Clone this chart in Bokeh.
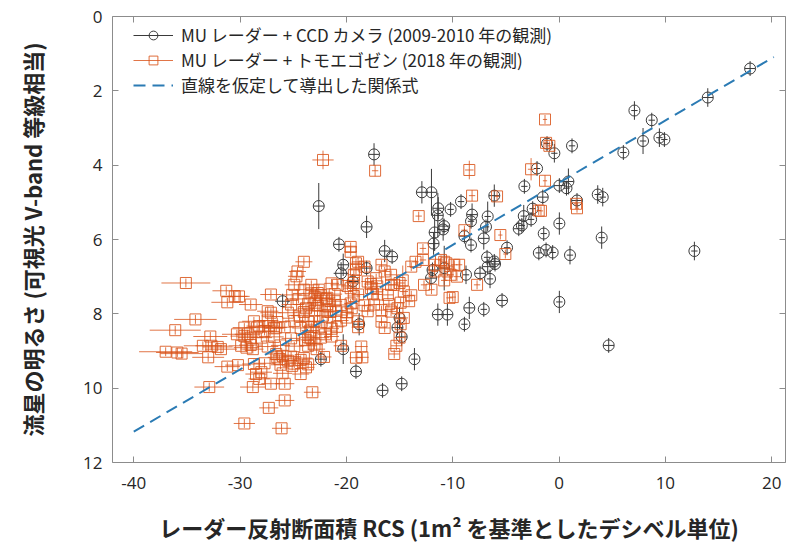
import numpy as np
from bokeh.plotting import figure
from bokeh.models import Range1d, LinearAxis, Legend, LegendItem, FixedTicker
from bokeh.embed import file_html
from bokeh.resources import INLINE

# ---------------- data ----------------
# MU radar + CCD camera (2009-2010)
ccd_x = [17.97, 13.99, 7.09, 8.72, 7.90, 9.44, 9.91, 6.05, 1.22, -0.44,
         -1.13, 0.88, 0.70, 0.03, 3.64, 4.11, 1.69, -1.53, 0.03, -1.44,
         4.01, 12.73, -1.22, -0.60, 1.03, 0.03, 4.67, -2.07, -3.26, -2.48,
         -3.32, -2.63, -3.79, -3.50, -1.90, -6.09, -6.71, -6.87, -8.18, -8.28,
         -9.22, -10.20, -11.36, -11.40, -10.80, -10.90, -12.90, -12.00, -11.70, -11.80,
         -8.90, -8.28, -7.08, -4.89, -6.77, -6.09, -12.04, -11.90, -10.80, -8.75,
         -7.43, -6.71, -6.02, -6.49, -5.36, -11.40, -10.50, -8.44, -7.08, -8.90,
         -15.00, -15.20, -14.80, -13.60, -14.80, -26.00, -18.80, -20.30, -22.40, -19.10,
         -16.60, -17.40, -22.60, -18.10, -20.70, -16.40, -15.70, -20.30, -20.50, -18.10,
         -19.40]
ccd_y = [1.40, 2.18, 2.53, 2.79, 3.35, 3.26, 3.31, 3.66, 3.48, 3.68,
         3.42, 4.44, 4.62, 4.55, 4.79, 4.86, 4.95, 4.86, 5.57, 5.84,
         5.95, 6.31, 6.28, 6.35, 6.42, 7.68, 8.85, 4.09, 4.57, 5.17,
         5.37, 5.46, 5.71, 5.62, 6.36, 4.82, 5.38, 5.66, 5.33, 5.51,
         4.98, 5.19, 5.16, 5.35, 5.64, 5.73, 4.73, 4.73, 5.81, 6.11,
         5.91, 6.15, 5.97, 6.22, 6.48, 6.59, 7.04, 6.82, 6.77, 6.95,
         6.91, 6.73, 6.66, 7.06, 7.64, 8.02, 8.02, 7.84, 7.88, 8.28,
         8.11, 8.37, 8.62, 9.22, 9.88, 7.66, 8.28, 8.95, 9.22, 9.55,
         10.06, 3.71, 5.10, 5.66, 6.13, 6.31, 6.46, 6.68, 6.91, 6.77,
         7.13]
ccd_xerr = [0.5, 0.5, 0.3, 0.3, 0.3, 0.3, 0.3, 0.3, 0.3, 0.3,
            0.3, 0.5, 0.3, 0.5, 0.3, 0.3, 0.5, 0.5, 0.3, 0.3,
            0.3, 0.3, 0.3, 0.3, 0.3, 0.3, 0.5, 0.3, 0.3, 0.3,
            0.3, 0.3, 0.5, 0.3, 0.3, 0.5, 0.3, 0.3, 0.5, 0.3,
            0.3, 0.3, 0.5, 0.5, 0.5, 0.5, 0.5, 0.5, 0.5, 0.5,
            0.5, 0.3, 0.5, 0.3, 0.3, 0.5, 0.5, 0.5, 0.5, 0.3,
            0.5, 0.5, 0.5, 0.3, 0.5, 0.5, 0.5, 0.5, 0.3, 0.3,
            0.5, 0.5, 0.5, 0.3, 0.5, 0.7, 0.5, 0.5, 0.5, 0.5,
            0.5, 0.5, 0.5, 0.5, 0.5, 0.5, 0.5, 0.5, 0.7, 0.5,
            0.5]
ccd_yerr = [0.20, 0.25, 0.25, 0.20, 0.35, 0.25, 0.20, 0.20, 0.20, 0.25,
            0.20, 0.35, 0.20, 0.20, 0.25, 0.25, 0.20, 0.20, 0.30, 0.20,
            0.30, 0.25, 0.20, 0.20, 0.25, 0.30, 0.20, 0.20, 0.20, 0.20,
            0.30, 0.20, 0.20, 0.20, 0.20, 0.30, 0.40, 0.20, 0.30, 0.20,
            0.20, 0.20, 0.30, 0.60, 0.20, 0.30, 0.30, 0.63, 0.50, 0.30,
            0.20, 0.20, 0.30, 0.20, 0.20, 0.20, 0.20, 0.20, 0.60, 0.25,
            0.20, 0.20, 0.20, 0.25, 0.20, 0.30, 0.30, 0.30, 0.20, 0.20,
            0.30, 0.20, 0.25, 0.30, 0.20, 0.20, 0.30, 0.40, 0.20, 0.20,
            0.20, 0.30, 0.62, 0.30, 0.20, 0.30, 0.20, 0.30, 0.30, 0.20,
            0.20]

# MU radar + Tomo-e Gozen (2018)
tomo_x = [
    -35.1, -31.3, -30.5, -30.1, -31.2, -34.2, -36.1, -32.8, -33.5, -32.7,
    -32.1, -37.0, -35.9, -35.5, -33.0, -31.8, -31.2, -30.2, -30.3, -29.6,
    -29.0, -29.4, -28.8, -32.9, -28.8, -29.6, -28.5, -28.2, -27.3, -25.8,
    -26.1, -23.2, -27.1, -25.8, -28.0, -28.2, -26.0, -24.3, -23.8, -25.1,
    -26.3, -25.5, -24.3, -26.6, -26.0, -27.3, -26.6, -27.7, -27.1, -25.5,
    -25.2, -25.1, -24.0, -23.3, -24.0, -24.6, -24.7, -22.2, -17.3,
    -24.9, -21.4, -19.9, -17.7,
    -27.1, -23.3, -22.4, -21.1, -19.3, -17.5, -16.1,
    -29.0, -23.6, -22.7, -21.8, -20.5, -19.6, -18.3, -17.4, -16.0,
    -27.4, -24.0, -23.0, -21.8, -21.0, -19.9, -18.0, -16.7, -15.8,
    -28.7, -27.4, -26.5, -24.9, -23.6, -23.0, -21.8, -20.5, -18.9, -16.7,
    -29.6, -26.8, -25.8, -24.3, -23.3, -22.6, -21.4, -18.9, -16.4,
    -28.0, -26.8, -25.2, -23.6, -23.3, -22.4, -21.4,
    -29.9, -29.0, -27.4, -26.2, -24.9, -23.6, -23.0, -20.5, -18.6,
    -26.5, -25.2, -24.0, -22.1, -19.1, -18.5,
    -28.7, -27.7, -26.2, -24.9, -23.6,
    -23.8, -22.9, -22.2, -23.4, -22.0, -24.4, -22.6, -21.5, -23.9, -22.8,
    -21.9, -20.9, -20.0, -19.5, -24.5, -23.0,
    -19.6, -19.6, -19.1, -19.1, -16.7, -16.4, -20.8, -19.3, -18.0, -17.2,
    -17.1, -15.8, -18.9, -18.3, -19.3, -15.8, -15.5,
    -14.6, -15.0, -14.1, -13.9, -12.7, -12.0, -11.7, -10.2, -9.4, -14.6,
    -14.9, -15.0, -15.3, -15.5, -10.3, -12.8, -13.2, -11.7, -10.8, -10.5,
    -10.0, -7.71, -12.8, -13.5, -11.1, -10.6, -9.85, -10.8, -9.6, -14.7,
    -22.7, -21.8, -21.1, -19.6, -18.9, -17.7, -17.1, -28.4, -29.3, -15.2,
    -14.9, -13.9,
    -8.44, -2.63, -1.32, -8.18, -5.83, -1.91, -8.9, -5.52, -5.05, -1.32,
    -1.22, -0.91, -1.7, 1.6, 1.69]
tomo_y = [
    7.17, 7.38, 7.53, 7.53, 7.69, 8.15, 8.44, 8.61, 8.86, 8.86,
    8.89, 9.02, 9.04, 9.07, 9.17, 8.95, 9.42, 9.38, 8.55, 8.60,
    8.64, 8.91, 8.95, 9.97, 9.97, 10.95, 9.62, 8.33, 10.53, 10.33,
    11.08, 10.11, 9.88, 9.88, 9.57, 9.75, 9.60, 9.62, 9.44, 9.40,
    9.22, 9.26, 9.24, 9.08, 9.13, 8.33, 8.37, 8.46, 7.97, 7.97,
    7.75, 7.49, 7.35, 7.22, 6.60, 6.86, 6.99, 3.86, 4.15,
    7.22, 7.18, 7.25, 7.20,
    7.48, 7.45, 7.50, 7.47, 7.52, 7.46, 7.49,
    7.75, 7.73, 7.78, 7.74, 7.76, 7.72, 7.77, 7.75, 7.74,
    7.93, 7.95, 7.91, 7.94, 7.92, 7.96, 7.93, 7.90, 7.94,
    8.20, 8.18, 8.22, 8.19, 8.21, 8.20, 8.23, 8.18, 8.20, 8.21,
    8.37, 8.39, 8.36, 8.38, 8.35, 8.37, 8.40, 8.36, 8.38,
    8.64, 8.62, 8.66, 8.63, 8.65, 8.64, 8.61,
    8.86, 8.84, 8.88, 8.85, 8.87, 8.86, 8.83, 8.86, 8.88,
    9.17, 9.15, 9.19, 9.16, 9.18, 9.17,
    9.35, 9.33, 9.37, 9.34, 9.36,
    7.85, 7.70, 8.05, 8.45, 8.55, 8.05, 7.35, 7.95, 8.70, 8.95,
    7.60, 8.35, 8.10, 7.85, 7.60, 7.55,
    6.20, 6.33, 6.64, 6.82, 6.68, 6.86, 7.22, 7.17, 7.13, 7.04,
    7.26, 7.22, 6.60, 6.73, 6.95, 6.95, 7.22,
    7.40, 7.17, 7.66, 6.73, 7.22, 7.35, 6.86, 6.95, 6.68, 8.11,
    8.28, 8.64, 8.86, 9.08, 7.57, 6.24, 5.37, 6.68, 6.60, 6.86,
    7.55, 7.22, 6.55, 6.60, 6.55, 6.64, 6.68, 7.10, 7.00, 7.10,
    7.44, 7.57, 7.66, 7.31, 7.48, 7.31, 7.48, 8.37, 8.55, 7.85,
    7.70, 7.50,
    4.13, 4.11, 4.42, 4.82, 4.84, 5.22, 5.75, 5.88, 6.39, 2.77,
    3.40, 3.48, 5.23, 5.04, 5.16]
tomo_xerr = [
    2.3, 1.3, 1.2, 1.0, 1.5, 2.0, 2.4, 1.6, 1.8, 1.5,
    1.4, 2.5, 2.0, 2.0, 1.5, 1.5, 1.2, 1.2, 1.4, 1.3,
    1.2, 1.2, 1.0, 1.4, 1.2, 1.0, 1.0, 1.2, 0.9, 0.9,
    0.9, 0.8, 0.9, 0.9, 1.0, 1.0, 0.9, 0.8, 0.8, 0.8,
    0.9, 0.8, 0.8, 0.9, 0.9, 1.0, 1.0, 1.0, 1.0, 0.9,
    0.9, 0.9, 0.8, 0.8, 0.8, 0.8, 0.8, 1.0, 0.3,
    0.9, 0.7, 0.6, 0.6,
    1.0, 0.8, 0.8, 0.7, 0.6, 0.6, 0.5,
    1.1, 0.8, 0.8, 0.7, 0.7, 0.6, 0.6, 0.6, 0.5,
    1.0, 0.8, 0.8, 0.7, 0.7, 0.6, 0.6, 0.5, 0.5,
    1.1, 1.0, 0.9, 0.9, 0.8, 0.8, 0.7, 0.7, 0.6, 0.5,
    1.1, 0.9, 0.9, 0.8, 0.8, 0.8, 0.7, 0.6, 0.5,
    1.0, 0.9, 0.9, 0.8, 0.8, 0.8, 0.7,
    1.2, 1.1, 1.0, 0.9, 0.9, 0.8, 0.8, 0.7, 0.6,
    0.9, 0.9, 0.8, 0.7, 0.6, 0.6,
    1.1, 1.0, 0.9, 0.9, 0.8,
    0.8, 0.8, 0.7, 0.8, 0.7, 0.8, 0.8, 0.7, 0.8, 0.8,
    0.7, 0.7, 0.6, 0.6, 0.8, 0.8,
    0.6, 0.6, 0.6, 0.6, 0.5, 0.5, 0.7, 0.6, 0.6, 0.5,
    0.5, 0.5, 0.6, 0.6, 0.6, 0.5, 0.5,
    0.4, 0.5, 0.4, 0.4, 0.3, 0.3, 0.3, 0.3, 0.3, 0.4,
    0.4, 0.5, 0.5, 0.5, 0.3, 0.3, 0.3, 0.3, 0.3, 0.3,
    0.3, 0.3, 0.3, 0.3, 0.3, 0.3, 0.3, 0.3, 0.3, 0.4,
    0.8, 0.7, 0.7, 0.6, 0.6, 0.6, 0.5, 1.1, 1.2, 0.5,
    0.4, 0.4,
    0.4, 0.3, 0.2, 0.3, 0.2, 0.2, 0.3, 0.2, 0.2, 0.2,
    0.2, 0.2, 0.2, 0.2, 0.2]
tomo_yerr = [
    0.12, 0.12, 0.12, 0.12, 0.12, 0.12, 0.12, 0.12, 0.12, 0.12,
    0.12, 0.12, 0.12, 0.12, 0.12, 0.12, 0.12, 0.12, 0.12, 0.12,
    0.12, 0.12, 0.12, 0.12, 0.12, 0.12, 0.12, 0.12, 0.12, 0.12,
    0.12, 0.12, 0.12, 0.12, 0.12, 0.12, 0.12, 0.12, 0.12, 0.12,
    0.12, 0.12, 0.12, 0.12, 0.12, 0.12, 0.12, 0.12, 0.12, 0.12,
    0.12, 0.12, 0.12, 0.12, 0.12, 0.12, 0.12, 0.25, 0.15,
    0.12, 0.12, 0.12, 0.12,
    0.12, 0.12, 0.12, 0.12, 0.12, 0.12, 0.12,
    0.12, 0.12, 0.12, 0.12, 0.12, 0.12, 0.12, 0.12, 0.12,
    0.12, 0.12, 0.12, 0.12, 0.12, 0.12, 0.12, 0.12, 0.12,
    0.12, 0.12, 0.12, 0.12, 0.12, 0.12, 0.12, 0.12, 0.12, 0.12,
    0.12, 0.12, 0.12, 0.12, 0.12, 0.12, 0.12, 0.12, 0.12,
    0.12, 0.12, 0.12, 0.12, 0.12, 0.12, 0.12,
    0.12, 0.12, 0.12, 0.12, 0.12, 0.12, 0.12, 0.12, 0.12,
    0.12, 0.12, 0.12, 0.12, 0.12, 0.12,
    0.12, 0.12, 0.12, 0.12, 0.12,
    0.12, 0.12, 0.12, 0.12, 0.12, 0.12, 0.12, 0.12, 0.12, 0.12,
    0.12, 0.12, 0.12, 0.12, 0.12, 0.12,
    0.12, 0.12, 0.12, 0.12, 0.12, 0.12, 0.12, 0.12, 0.12, 0.12,
    0.12, 0.12, 0.12, 0.12, 0.12, 0.12, 0.12,
    0.12, 0.12, 0.12, 0.12, 0.12, 0.12, 0.12, 0.12, 0.12, 0.12,
    0.12, 0.12, 0.12, 0.12, 0.12, 0.12, 0.12, 0.12, 0.12, 0.12,
    0.12, 0.12, 0.12, 0.12, 0.12, 0.12, 0.12, 0.12, 0.12, 0.40,
    0.12, 0.12, 0.12, 0.12, 0.12, 0.12, 0.12, 0.12, 0.12, 0.12,
    0.12, 0.12,
    0.25, 0.30, 0.15, 0.15, 0.12, 0.12, 0.12, 0.12, 0.12, 0.12,
    0.12, 0.12, 0.12, 0.12, 0.12]

# fitted straight-line relation (end points)
fit_x = [-40.0, 20.2]
fit_y = [11.17, 1.09]

x_ticks = [-40, -30, -20, -10, 0, 10, 20]
y_ticks = [0, 2, 4, 6, 8, 10, 12]

legend_labels = ["MU レーダー + CCD カメラ (2009-2010 年の観測)",
                 "MU レーダー + トモエゴゼン (2018 年の観測)",
                 "直線を仮定して導出した関係式"]
x_label = "レーダー反射断面積 RCS (1m² を基準としたデシベル単位)"
y_label = "流星の明るさ (可視光 V-band 等級相当)"

assert len(ccd_x) == len(ccd_y) == len(ccd_xerr) == len(ccd_yerr)
assert len(tomo_x) == len(tomo_y) == len(tomo_xerr) == len(tomo_yerr)

# ---------------- styling ----------------
BLACK = "#3a3a3a"
ORANGE = "#D95319"
BLUE = "#2b7bb4"
AXIS = "#8c8c8c"
TXT = "#262626"
JP = "Noto Sans CJK JP"
NUM = "Open Sans"

p = figure(width=793, height=545,
           x_range=Range1d(-42, 21.3), y_range=Range1d(12, 0),
           output_backend="svg", toolbar_location=None,
           min_border_left=112, min_border_right=8,
           min_border_top=16, min_border_bottom=79)
p.background_fill_color = "white"
p.border_fill_color = "white"
p.outline_line_color = None
p.grid.visible = False

# top / right mirror axes (tick marks only, labels not painted)
p.add_layout(LinearAxis(), "above")
p.add_layout(LinearAxis(), "right")

for ax in p.xaxis:
    ax.ticker = FixedTicker(ticks=x_ticks)
    ax.major_label_overrides = {t: str(t) for t in x_ticks}
for ax in p.yaxis:
    ax.ticker = FixedTicker(ticks=y_ticks)
    ax.major_label_overrides = {t: str(t) for t in y_ticks}

for ax in list(p.xaxis) + list(p.yaxis):
    ax.axis_line_color = AXIS
    ax.major_tick_line_color = AXIS
    ax.major_tick_in = 6
    ax.major_tick_out = 0
    ax.minor_tick_line_color = None
    ax.major_label_text_color = TXT
    ax.major_label_text_font = NUM
    ax.major_label_text_font_size = "17px"

top_ax, right_ax = p.above[0], p.right[0]
for ax in (top_ax, right_ax):
    ax.major_label_text_color = None
    ax.major_label_text_font_size = "1px"
    ax.major_label_standoff = 0

bx = p.below[0]
bx.major_label_standoff = 14
bx.axis_label = x_label
bx.axis_label_text_font = JP
bx.axis_label_text_font_size = "22px"
bx.axis_label_text_font_style = "bold"
bx.axis_label_text_color = TXT
bx.axis_label_standoff = 19

ly = p.left[0]
ly.major_label_standoff = 10
ly.axis_label = y_label
ly.axis_label_text_font = JP
ly.axis_label_text_font_size = "22px"
ly.axis_label_text_font_style = "bold"
ly.axis_label_text_color = TXT
ly.axis_label_standoff = 32

# ---------------- glyphs ----------------
cx, cy = np.array(ccd_x), np.array(ccd_y)
cxe, cye = np.array(ccd_xerr), np.array(ccd_yerr)
tx, ty = np.array(tomo_x), np.array(tomo_y)
txe, tye = np.array(tomo_xerr), np.array(tomo_yerr)

ccd_vbar = p.segment(x0=cx, x1=cx, y0=cy - cye, y1=cy + cye, line_color=BLACK, line_width=1)
p.segment(x0=cx - cxe, x1=cx + cxe, y0=cy, y1=cy, line_color=BLACK, line_width=1)
ccd_pts = p.scatter(cx, cy, marker="circle", size=11, fill_color=None,
                    line_color=BLACK, line_width=1)

tomo_hbar = p.segment(x0=tx - txe, x1=tx + txe, y0=ty, y1=ty, line_color=ORANGE,
                      line_width=1, line_alpha=0.8)
p.segment(x0=tx, x1=tx, y0=ty - tye, y1=ty + tye, line_color=ORANGE, line_width=1, line_alpha=0.8)
tomo_pts = p.scatter(tx, ty, marker="square", size=11, fill_color=None,
                     line_color=ORANGE, line_width=1, line_alpha=0.85)

fit_line = p.line(fit_x, fit_y, line_color=BLUE, line_width=2, line_dash="12 7")

legend = Legend(items=[
    LegendItem(label=legend_labels[0], renderers=[ccd_vbar, ccd_pts]),
    LegendItem(label=legend_labels[1], renderers=[tomo_hbar, tomo_pts]),
    LegendItem(label=legend_labels[2], renderers=[fit_line]),
], location=(21, 365))
legend.margin = 0
legend.padding = 0
legend.spacing = 0
legend.glyph_width = 40
legend.glyph_height = 22
legend.label_height = 22
legend.label_standoff = 8
legend.label_text_font = JP
legend.label_text_font_size = "17px"
legend.label_text_color = TXT
legend.border_line_alpha = 0
legend.background_fill_alpha = 0
p.add_layout(legend)

open("out.html", "w").write(file_html(p, INLINE))
